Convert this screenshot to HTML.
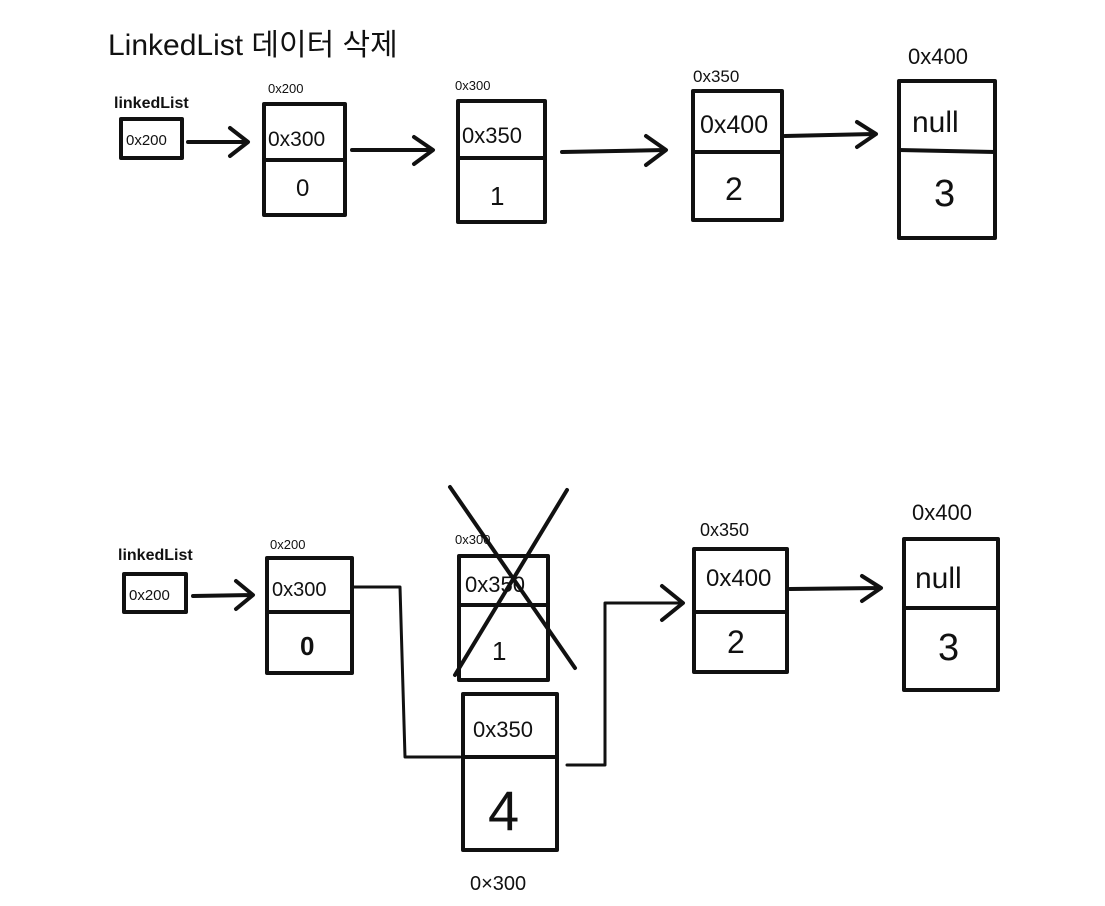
<!DOCTYPE html>
<html><head><meta charset="utf-8"><style>
html,body{margin:0;padding:0;background:#fff;}
svg{display:block;}
text{font-family:"Liberation Sans","Noto Sans CJK KR",sans-serif;fill:#111;}
</style></head><body>
<svg width="1105" height="906" viewBox="0 0 1105 906" xmlns="http://www.w3.org/2000/svg">
<g stroke="#111" stroke-width="4" fill="none" stroke-linecap="round" stroke-linejoin="round">
<!-- top row -->
<rect x="121" y="119" width="61" height="39"/>
<path d="M188 142 L246 142 M230 128 L248 142 L230 156"/>
<rect x="264" y="104" width="81" height="111"/><path d="M264 160 L345 160"/>
<path d="M352 150 L432 150 M414 137 L433 150 L414 164"/>
<rect x="458" y="101" width="87" height="121"/><path d="M458 158 L545 158"/>
<path d="M562 152 L665 150 M646 136 L666 150 L646 165"/>
<rect x="693" y="91" width="89" height="129"/><path d="M693 152 L782 152"/>
<path d="M785 136 L874 134 M857 122 L876 134 L857 147"/>
<rect x="899" y="81" width="96" height="157"/><path d="M899 150 L995 152"/>
<!-- bottom row -->
<rect x="124" y="574" width="62" height="38"/>
<path d="M193 596 L252 595 M236 581 L253 595 L236 609"/>
<rect x="267" y="558" width="85" height="115"/><path d="M267 612 L352 612"/>
<rect x="459" y="556" width="89" height="124"/><path d="M459 605 L548 605"/>
<path d="M450 487 L575 668 M567 490 L455 675"/>
<rect x="463" y="694" width="94" height="156"/><path d="M463 757 L557 757"/>
<path d="M352 587 L400 587 L405 757 L460 757" stroke-width="3"/>
<path d="M567 765 L605 765 L605 603 L682 603" stroke-width="3"/>
<path d="M662 586 L683 603 L662 620"/>
<rect x="694" y="549" width="93" height="123"/><path d="M694 612 L787 612"/>
<path d="M790 589 L880 588 M862 576 L881 588 L862 601"/>
<rect x="904" y="539" width="94" height="151"/><path d="M904 608 L998 608"/>
</g>
<text x="108" y="55" font-size="30">LinkedList 데이터 삭제</text>
<!-- top labels -->
<text x="114" y="108" font-size="16" font-weight="bold">linkedList</text>
<text x="126" y="145" font-size="15">0x200</text>
<text x="268" y="93" font-size="13">0x200</text>
<text x="268" y="146" font-size="21">0x300</text>
<text x="296" y="196" font-size="24">0</text>
<text x="455" y="90" font-size="13">0x300</text>
<text x="462" y="143" font-size="22">0x350</text>
<text x="490" y="205" font-size="26">1</text>
<text x="693" y="82" font-size="17">0x350</text>
<text x="700" y="133" font-size="25">0x400</text>
<text x="725" y="200" font-size="32">2</text>
<text x="908" y="64" font-size="22">0x400</text>
<text x="912" y="132" font-size="30">null</text>
<text x="934" y="206" font-size="38">3</text>
<!-- bottom labels -->
<text x="118" y="560" font-size="16" font-weight="bold">linkedList</text>
<text x="129" y="600" font-size="15">0x200</text>
<text x="270" y="549" font-size="13">0x200</text>
<text x="272" y="596" font-size="20">0x300</text>
<text x="300" y="655" font-size="26" font-weight="bold">0</text>
<text x="455" y="544" font-size="13">0x300</text>
<text x="465" y="592" font-size="22">0x350</text>
<text x="492" y="660" font-size="26">1</text>
<text x="473" y="737" font-size="22">0x350</text>
<text x="488" y="830" font-size="56">4</text>
<text x="470" y="890" font-size="20">0×300</text>
<text x="700" y="536" font-size="18">0x350</text>
<text x="706" y="586" font-size="24">0x400</text>
<text x="727" y="653" font-size="32">2</text>
<text x="912" y="520" font-size="22">0x400</text>
<text x="915" y="588" font-size="30">null</text>
<text x="938" y="660" font-size="38">3</text>
</svg>
</body></html>
